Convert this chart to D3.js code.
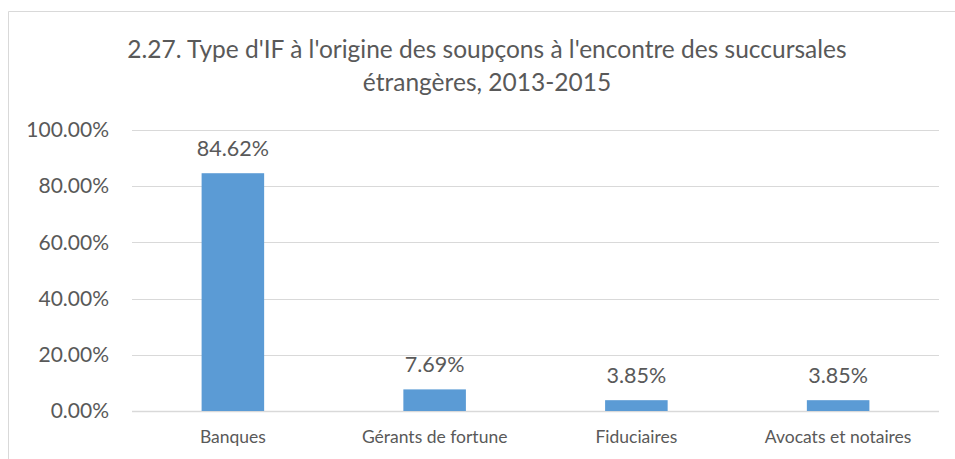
<!DOCTYPE html>
<html lang="en">
<head>
  <meta charset="UTF-8">
  <title>Type d'IF</title>
  <script src="https://cdn.jsdelivr.net/npm/d3@7"></script>
  <style>
  body { margin: 0; background: #fff; }
  svg text { font-family: Lato, "Open Sans", sans-serif; fill: #595959; }
  </style>
</head>
<body>
<svg id="chart" width="955" height="459"></svg>
<script>
// Data
const categories = ['Banques', 'Gérants de fortune', 'Fiduciaires', 'Avocats et notaires'];
const values = [84.62, 7.69, 3.85, 3.85];
const yTicks = [0, 20, 40, 60, 80, 100];
const titleLines = ["2.27. Type d'IF à l'origine des soupçons à l'encontre des succursales", "étrangères, 2013-2015"];

const svg = d3.select('#chart');
const margin = {top: 130, right: 16, bottom: 48, left: 132};
const width = 955, height = 459;

// outer frame (bottom edge is cut off in the picture)
svg.append('path')
  .attr('d', `M8.5,${height} V11.5 H${width}`)
  .attr('fill', 'none')
  .attr('stroke', '#d9d9d9')
  .attr('stroke-width', 1);

const x = d3.scaleBand()
  .domain(categories)
  .range([margin.left, width - margin.right])
  .paddingInner(0.69)
  .paddingOuter(0.345);

const y = d3.scaleLinear()
  .domain([0, 100])
  .range([height - margin.bottom, margin.top]);

// gridlines
svg.append('g')
  .selectAll('line')
  .data(yTicks)
  .join('line')
    .attr('x1', margin.left).attr('x2', width - margin.right)
    .attr('y1', d => Math.round(y(d)) + 0.5).attr('y2', d => Math.round(y(d)) + 0.5)
    .attr('stroke', '#d9d9d9')
    .attr('stroke-width', d => d === 0 ? 1.5 : 1);

// y axis labels
const yAxis = d3.axisLeft(y).tickValues(yTicks).tickSize(0).tickPadding(0)
  .tickFormat(d => d.toFixed(2) + '%');
svg.append('g')
  .attr('transform', `translate(109,0)`)
  .call(yAxis)
  .call(g => g.select('.domain').remove())
  .selectAll('text')
    .attr('font-size', 21)
    .attr('fill', '#595959')
    .style('font-family', null);

// x axis labels
const xAxis = d3.axisBottom(x).tickSize(0).tickPadding(0);
svg.append('g')
  .attr('transform', `translate(0,${height - margin.bottom})`)
  .call(xAxis)
  .call(g => g.select('.domain').remove())
  .selectAll('text')
    .attr('dy', null)
    .attr('y', 32)
    .attr('font-size', 17.5)
    .attr('fill', '#595959');

// bars
svg.append('g')
  .selectAll('rect')
  .data(values)
  .join('rect')
    .attr('x', (d, i) => x(categories[i]))
    .attr('y', d => y(d))
    .attr('width', x.bandwidth())
    .attr('height', d => y(0) - y(d))
    .attr('fill', '#5b9bd5');

// data labels
svg.append('g')
  .selectAll('text')
  .data(values)
  .join('text')
    .attr('x', (d, i) => x(categories[i]) + x.bandwidth() / 2)
    .attr('y', d => y(d) - 17.5)
    .attr('text-anchor', 'middle')
    .attr('font-size', 21.5)
    .attr('fill', '#404040')
    .text(d => d.toFixed(2) + '%');

// title
svg.append('text')
  .attr('text-anchor', 'middle')
  .attr('font-size', 24.5)
  .attr('fill', '#595959')
  .selectAll('tspan')
  .data(titleLines)
  .join('tspan')
    .attr('x', 487)
    .attr('y', (d, i) => 58 + i * 33)
    .text(d => d);
</script>
</body>
</html>
